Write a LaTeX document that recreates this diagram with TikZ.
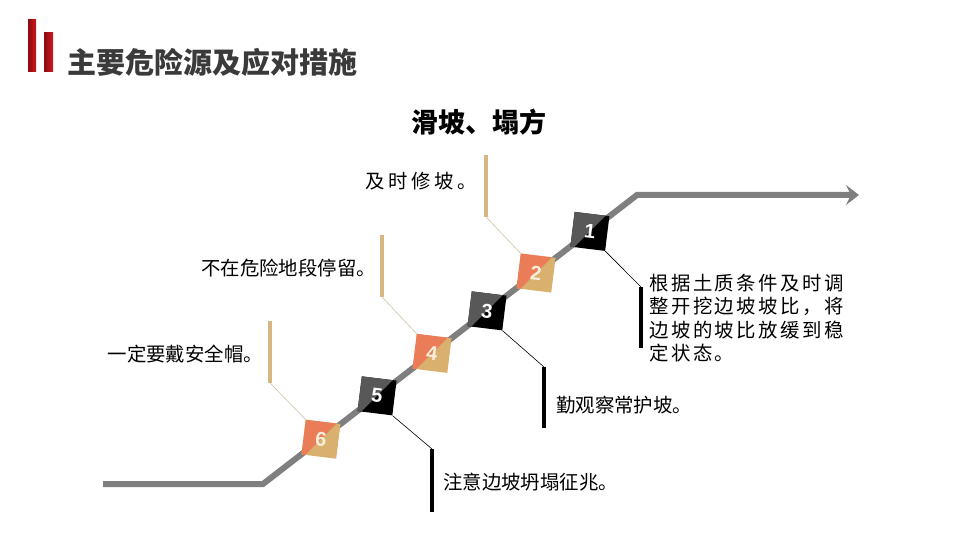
\documentclass[tikz,border=0pt]{standalone}
\usepackage{fontspec}
\setmainfont{Liberation Sans}
\newfontfamily\cjk{Noto Sans CJK SC}
\newfontfamily\cjkwide[LetterSpace=13]{Noto Sans CJK SC}
\usetikzlibrary{arrows.meta}
\usetikzlibrary{calc}

\definecolor{slopegray}{HTML}{7F7F7F}
\definecolor{titlered}{HTML}{D0191F}
\definecolor{deepred}{HTML}{8A0B10}
\definecolor{titlegray}{HTML}{3A3A3A}
\definecolor{stepgray}{HTML}{585858}
\definecolor{steporange}{HTML}{EA7D58}
\definecolor{steptan}{HTML}{DAB06E}
\definecolor{bartan}{HTML}{D5B77F}
\definecolor{leadtan}{HTML}{CFC2A8}
\definecolor{numcream}{HTML}{F8EEDC}

\begin{document}
\begin{tikzpicture}[
    x=1bp, y=-1bp,
    stepsq/.style={rectangle, minimum size=35bp, inner sep=0pt, rotate=-7,
        font=\bfseries\fontsize{20bp}{20bp}\selectfont},
    oddsq/.style={stepsq, fill=black, text=white,
        path picture={\fill[stepgray] (path picture bounding box.south west)
            -- (path picture bounding box.north west)
            -- (path picture bounding box.north east) -- cycle;}},
    evensq/.style={stepsq, fill=steptan, text=numcream,
        path picture={\fill[steporange] (path picture bounding box.south west)
            -- (path picture bounding box.north west)
            -- (path picture bounding box.north east) -- cycle;}},
    slope/.style={line width=6bp, slopegray},
    tanbar/.style={line width=4bp, bartan},
    blackbar/.style={line width=3.5bp, black},
    tanlead/.style={line width=0.6bp, leadtan},
    blacklead/.style={line width=0.6bp, black},
    tip/.style={font=\cjk\fontsize{19.4bp}{23.5bp}\selectfont, inner sep=0pt}
]
\useasboundingbox (0,0) rectangle (960,540);

% Title
\shade[left color=deepred, right color=titlered] (28,20) rectangle (36,72);
\shade[left color=deepred, right color=titlered] (44,33) rectangle (53,72);
\node[anchor=west, inner sep=0pt, text=titlegray,
      font=\cjk\bfseries\fontsize{29bp}{29bp}\selectfont] (title) at (67,62) {主要危险源及应对措施};
\node[inner sep=0pt, font=\cjk\bfseries\fontsize{27bp}{27bp}\selectfont] (subtitle) at (479,122) {滑坡、塌方};

% Slope line
\coordinate (start) at (103,484);
\coordinate (foot) at (263,484);
\coordinate (top) at (637,195);
\coordinate (end) at (859,195);
\draw[slope, -{Stealth[length=13bp, width=20bp, inset=5bp]}] (start) -- (foot) -- (top) -- (end);

% Steps
\node[evensq] (sq6) at ($(foot)!0.155!(top)$) {6};
\node[oddsq]  (sq5) at ($(foot)!0.305!(top)$) {5};
\node[evensq] (sq4) at ($(foot)!0.452!(top)$) {4};
\node[oddsq]  (sq3) at ($(foot)!0.599!(top)$) {3};
\node[evensq] (sq2) at ($(foot)!0.730!(top)$) {2};
\node[oddsq]  (sq1) at ($(foot)!0.874!(top)$) {1};

% Bars
\coordinate (bar2a) at (486,155);  \coordinate (bar2b) at (486,217);
\coordinate (bar4a) at (382,235);  \coordinate (bar4b) at (382,297);
\coordinate (bar6a) at (270,321);  \coordinate (bar6b) at (270,383);
\coordinate (bar1a) at (641,287);  \coordinate (bar1b) at (641,348);
\coordinate (bar3a) at (544,367);  \coordinate (bar3b) at (544,428);
\coordinate (bar5a) at (432,449);  \coordinate (bar5b) at (432,512);
\draw[tanbar] (bar2a) -- (bar2b);
\draw[tanbar] (bar4a) -- (bar4b);
\draw[tanbar] (bar6a) -- (bar6b);
\draw[blackbar] (bar1a) -- (bar1b);
\draw[blackbar] (bar3a) -- (bar3b);
\draw[blackbar] (bar5a) -- (bar5b);

% Leads
\draw[tanlead] (sq2.north west) -- (bar2b);
\draw[tanlead] (sq4.north west) -- (bar4b);
\draw[tanlead] (sq6.north west) -- (bar6b);
\draw[blacklead] (sq1.south east) -- (bar1a);
\draw[blacklead] (sq3.south east) -- (bar3a);
\draw[blacklead] (sq5.south east) -- (bar5a);

% Texts
\node[tip, anchor=east] (tip2) at (477,181) {及\hspace{3.5bp}时\hspace{3.5bp}修\hspace{3.5bp}坡\hspace{3.5bp}。};
\node[tip, anchor=east] (tip4) at (376,268) {不在危险地段停留。};
\node[tip, anchor=east] (tip6) at (263,354) {一定要戴安全帽。};
\node[tip, anchor=west, align=left, font=\cjkwide\fontsize{19.4bp}{23.5bp}\selectfont] (tip1) at (649,318)
    {根据土质条件及时调\\整开挖边坡坡比，将\\边坡的坡比放缓到稳\\定状态。};
\node[tip, anchor=west] (tip3) at (556,405) {勤观察常护坡。};
\node[tip, anchor=west] (tip5) at (443,482) {注意边坡坍塌征兆。};

\end{tikzpicture}
\end{document}
